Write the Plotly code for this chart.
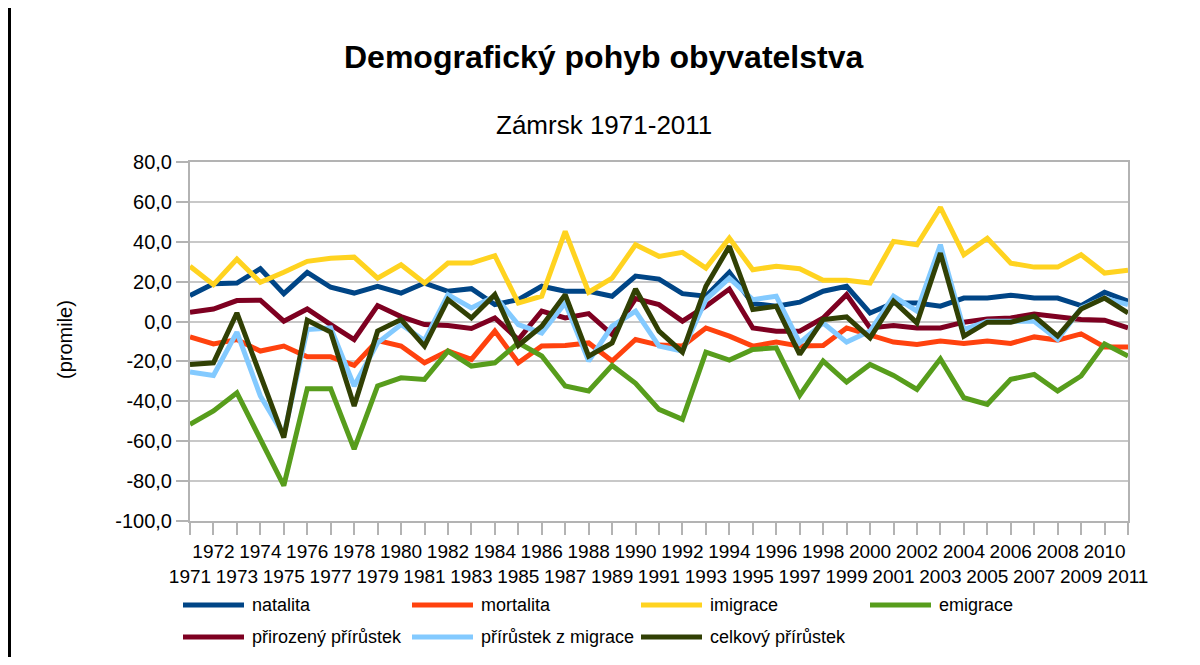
import plotly.graph_objects as go

years = list(range(1971, 2012))

natalita = [13, 19, 19.3, 26.5, 14, 24.7, 17.2, 14.3, 17.7, 14.3,
            19.3, 15.2, 16.5, 8.5, 11, 17.7, 15.2, 15.2, 12.7, 22.8,
            21.3, 14, 12.7, 24.7, 9, 7.7, 9.7, 15.2, 17.7, 4.3,
            9.3, 9.3, 7.7, 11.8, 11.8, 13.2, 11.8, 11.8, 8, 14.7, 10.2]
mortalita = [-7.7, -11.2, -9, -14.8, -12.3, -17.7, -17.7, -22, -9.5, -12.3,
             -20.7, -14.8, -19, -4.8, -20.7, -12.3, -12, -10.7, -19.8, -9,
             -11.8, -12.3, -3.2, -7.3, -12.3, -10.3, -12.3, -12, -3.2, -6.5,
             -10.3, -11.5, -9.8, -11, -9.8, -11, -7.7, -9.3, -6.2, -12.7, -12.7]
imigrace = [27.7, 18.5, 31.3, 19.7, 24.7, 30.2, 31.7, 32.3, 21.8, 28.5,
            19.3, 29.3, 29.3, 33, 9.3, 12.7, 45.2, 14.7, 21.8, 38.5,
            32.7, 34.7, 26.8, 41.8, 26, 27.7, 26.5, 20.7, 20.7, 19.3,
            40.2, 38.5, 57.3, 33.5, 41.8, 29.3, 27.3, 27.3, 33.5, 24.3, 25.7]
emigrace = [-51.5, -44.8, -35.7, -59, -82.3, -33.7, -33.7, -64, -32.3, -28.2,
            -29, -14.8, -22.3, -20.7, -10.7, -17.3, -32.3, -34.8, -22, -31,
            -44, -49, -15.3, -19.3, -14, -13.2, -37, -19.8, -30.3, -21.5,
            -27, -34, -18.7, -38.2, -41.5, -29, -26.5, -34.8, -27.3, -11.2, -17.3]
prirozeny = [4.7, 6.3, 10.5, 10.7, 0.2, 6.3, -1.5, -9, 8, 2.5,
             -1.5, -2, -3.5, 1.8, -9, 5.2, 1.8, 4, -6.5, 11.5,
             8.5, 0.2, 7.7, 16.3, -3.2, -4.8, -4.8, 1.8, 13.5, -3.2,
             -2, -3.2, -3.2, -0.3, 1.3, 1.8, 3.8, 2.7, 1, 0.7, -3.2]
z_migrace = [-25.3, -27, -5.3, -37.3, -57, -4, -3.2, -32.3, -10.7, -1.5,
             -9.5, 13.5, 6.8, 12.7, -1.5, -5.7, 9.3, -19.8, -2.3, 5.2,
             -12.3, -14.8, 11, 21.8, 11, 12.7, -10.7, -0.7, -10.3, -4.8,
             12.7, 5.2, 38.5, -4, 0.2, 0.2, 0.2, -9, 6.8, 11.8, 8.5]
celkovy = [-21.5, -20.7, 4.3, -27.3, -58.2, 0.7, -5.3, -42.3, -4.8, 1,
           -12.3, 11, 1.8, 13.5, -12, -2.3, 13.5, -17.3, -10.7, 16.3,
           -4.8, -15.3, 17.7, 37.7, 6, 7.7, -16.5, 1, 2.3, -8.2,
           10.2, -0.7, 34.3, -7.3, -0.3, -0.3, 2.7, -7.3, 6.3, 11.8, 4.3]

series_names = ["natalita", "mortalita", "imigrace", "emigrace",
                "přirozený přírůstek", "přírůstek z migrace", "celkový přírůstek"]
series_values = [natalita, mortalita, imigrace, emigrace, prirozeny, z_migrace, celkovy]
colors = ["#004586", "#ff420e", "#ffd320", "#579d1c", "#7e0021", "#83caff", "#314004"]

y_tickvals = [80, 60, 40, 20, 0, -20, -40, -60, -80, -100]
y_ticktext = ["80,0", "60,0", "40,0", "20,0", "0,0", "-20,0", "-40,0", "-60,0", "-80,0", "-100,0"]
x_ticktext = [str(y) if y % 2 == 0 else "<br>" + str(y) for y in years]

title_text = "Demografický pohyb obyvatelstva"
subtitle_text = "Zámrsk 1971-2011"
y_title = "(promile)"

FONT = "Liberation Sans, Arial, sans-serif"

# page has an 8px body margin; screen coordinates of the plot area
OFF = 8
L, R, T, B = 190, 1128, 162, 521
PW, PH = R - L, B - T
FIG_W, FIG_H = 1200 - 2 * OFF, 665 - 2 * OFF


def px_x(x):
    return (x - L) / PW


def px_y(y):
    return (B - y) / PH


fig = go.Figure()
for name, vals, col in zip(series_names, series_values, colors):
    fig.add_trace(go.Scatter(x=years, y=vals, mode="lines", name=name,
                             line=dict(color=col, width=5), showlegend=False))

fig.update_layout(
    width=FIG_W, height=FIG_H, autosize=False,
    margin=dict(l=L - OFF, r=FIG_W - (R - OFF), t=T - OFF, b=FIG_H - (B - OFF)),
    paper_bgcolor="white", plot_bgcolor="white",
    font=dict(family=FONT, color="#000000"),
    showlegend=False,
)
fig.update_xaxes(
    range=[1971, 2011], tickvals=years, ticktext=x_ticktext,
    ticks="outside", ticklen=12, tickcolor="#b3b3b3", tickwidth=1.5,
    showgrid=False, showline=True, linecolor="#b3b3b3", linewidth=2, mirror=True,
    tickfont=dict(size=19, family=FONT, color="#000"), tickangle=0, zeroline=False,
)
fig.update_yaxes(
    range=[-100, 80], tickvals=y_tickvals, ticktext=y_ticktext,
    ticks="outside", ticklen=12, tickcolor="#b3b3b3", tickwidth=1.5,
    showgrid=True, gridcolor="#c8c8c8", gridwidth=1.5,
    showline=True, linecolor="#b3b3b3", linewidth=2, mirror=True,
    tickfont=dict(size=20, family=FONT, color="#000"), zeroline=False,
)

ann = [
    dict(text="<b>" + title_text + "</b>", x=px_x(603.5), y=px_y(57), xref="paper", yref="paper",
         xanchor="center", yanchor="middle", showarrow=False, font=dict(size=32, family=FONT)),
    dict(text=subtitle_text, x=px_x(603.5), y=px_y(125), xref="paper", yref="paper",
         xanchor="center", yanchor="middle", showarrow=False, font=dict(size=26, family=FONT)),
    dict(text=y_title, x=px_x(65), y=px_y(340), xref="paper", yref="paper", textangle=-90,
         xanchor="center", yanchor="middle", showarrow=False, font=dict(size=20, family=FONT)),
]
shapes = [
    dict(type="line", xref="paper", yref="paper", x0=px_x(9.5), x1=px_x(9.5),
         y0=px_y(OFF), y1=px_y(665), line=dict(color="black", width=3)),
]

# legend drawn manually (longer swatches than plotly's native legend)
for i, (name, col) in enumerate(zip(series_names, colors)):
    row, c = divmod(i, 4)
    x0 = 183 + 229 * c
    yy = 605 + 32 * row
    shapes.append(dict(type="line", xref="paper", yref="paper",
                       x0=px_x(x0), x1=px_x(x0 + 61), y0=px_y(yy), y1=px_y(yy),
                       line=dict(color=col, width=5)))
    ann.append(dict(text=name, x=px_x(x0 + 67), y=px_y(yy), xref="paper", yref="paper",
                    xanchor="left", yanchor="middle", showarrow=False,
                    font=dict(size=18, family=FONT)))

fig.update_layout(annotations=ann, shapes=shapes)
fig.write_html("out.html")
